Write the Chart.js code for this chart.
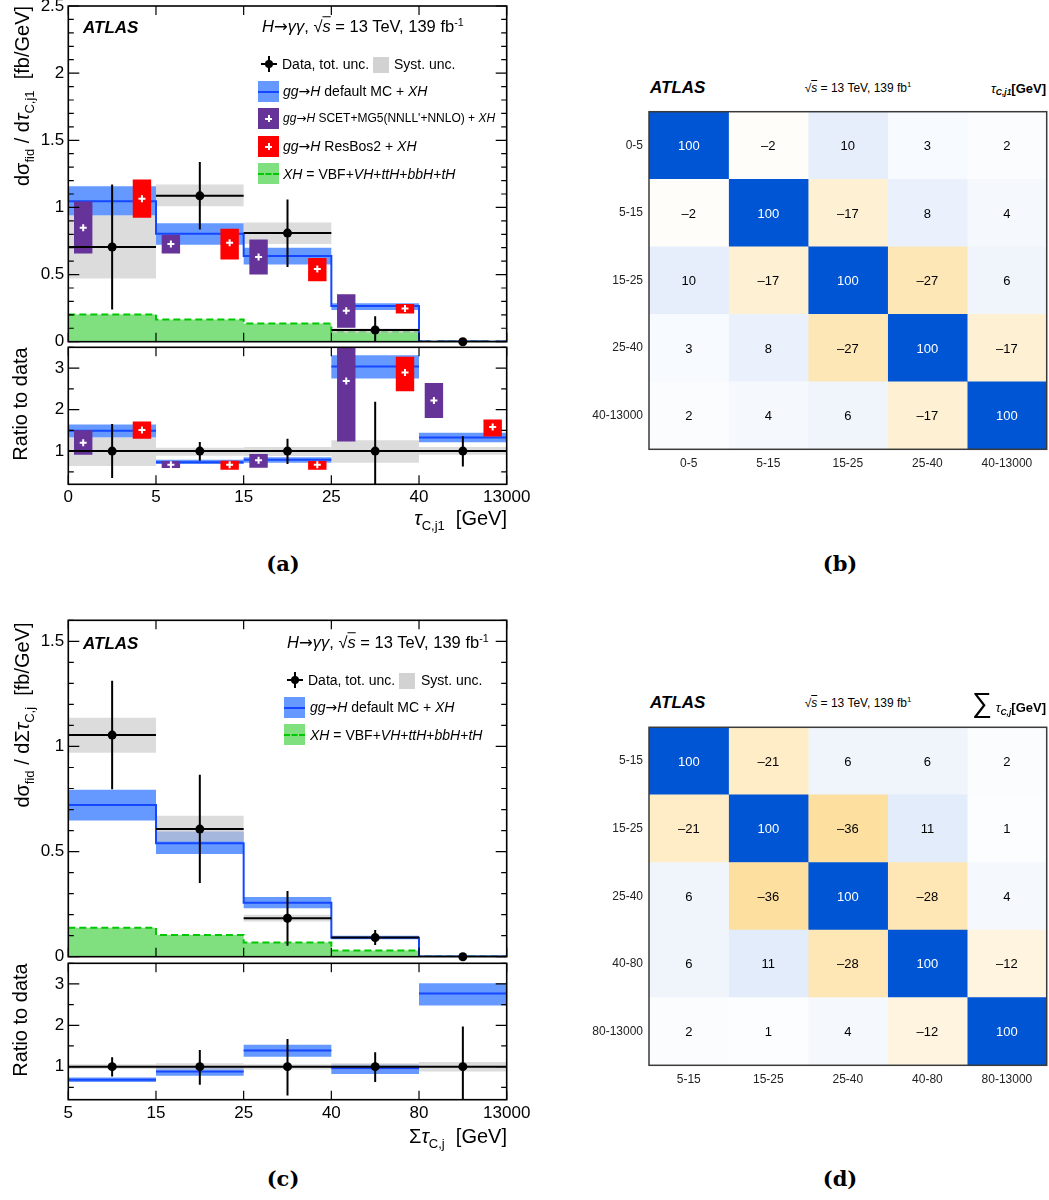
<!DOCTYPE html>
<html lang="en">
<head>
<meta charset="UTF-8">
<title>ATLAS H→γγ τ_C,j distributions</title>
<script src="https://cdn.jsdelivr.net/npm/chart.js@4.4.1/dist/chart.umd.min.js"></script>
<style>
    * { margin: 0; padding: 0; box-sizing: border-box; }
    body { background: #fff; font-family: "Liberation Sans", Arial, Helvetica, sans-serif; color: #000; }
    #page { position: relative; width: 1049px; height: 1200px; overflow: hidden; }
    canvas { position: absolute; }
    .t { position: absolute; white-space: nowrap; line-height: 1; transform: translateY(-50%); }
    .rot { transform: translate(-50%, -50%) rotate(-90deg); }
    .ctr { transform: translate(-50%, -50%); }
    .bi { font-weight: bold; font-style: italic; }
    .cap { font-family: "DejaVu Serif", "Liberation Serif", serif; font-weight: bold; font-size: 21px; }
    .ov { text-decoration: overline; font-style: italic; }
    .ar { font-family: "DejaVu Sans", sans-serif; }
    sub { font-size: 0.65em; vertical-align: -0.35em; line-height: 0; }
    sup { font-size: 0.65em; vertical-align: 0.6em; line-height: 0; }
    .mk { position: absolute; }
    .mk span { position: absolute; display: block; }
    .mk-data { width: 16px; height: 16px; }
    .mk-data .h { left: 0; top: 7px; width: 16px; height: 2px; background: #000; }
    .mk-data .v { left: 7px; top: 0; width: 2px; height: 16px; background: #000; }
    .mk-data .d { left: 4px; top: 4px; width: 8px; height: 8px; border-radius: 50%; background: #000; }
    .mk-syst { width: 16px; height: 16px; background: #d2d2d2; }
    .mk-box { width: 21px; height: 21px; }
    .mk-box .ln { left: 0; top: 9.5px; width: 21px; height: 2px; background: #1447ff; }
    .mk-box .ch { left: 7px; top: 9.5px; width: 7px; height: 2px; background: #fff; }
    .mk-box .cv { left: 9.5px; top: 7px; width: 2px; height: 7px; background: #fff; }
    .mk-box .ds { left: 0; top: 9.5px; width: 21px; height: 0; border-top: 2px dashed #00c800; }
</style>
</head>
<body>
<div id="page">
    <canvas id="mainA" width="570" height="350" style="left:0;top:0"></canvas>
    <canvas id="ratioA" width="570" height="175" style="left:0;top:338px"></canvas>
    <canvas id="mainC" width="570" height="350" style="left:0;top:615px"></canvas>
    <canvas id="ratioC" width="570" height="175" style="left:0;top:955px"></canvas>
    <canvas id="corrB" width="469" height="380" style="left:580px;top:100px"></canvas>
    <canvas id="corrD" width="469" height="380" style="left:580px;top:715px"></canvas>

    <!-- panel (a) -->
    <div class="t bi" style="left:83px;top:27px;font-size:17px">ATLAS</div>
    <div class="t" style="left:262px;top:27px;font-size:16.5px"><i>H</i><span class="ar">→</span><i>γγ</i>, √<span class="ov">s</span> = 13 TeV, 139 fb<sup>-1</sup></div>
    <div class="mk mk-data" style="left:261px;top:56px"><span class="h"></span><span class="v"></span><span class="d"></span></div>
    <div class="t" style="left:282px;top:64px;font-size:14px">Data, tot. unc.</div>
    <div class="mk mk-syst" style="left:373px;top:57px"></div>
    <div class="t" style="left:394px;top:64px;font-size:14px">Syst. unc.</div>
    <div class="mk mk-box" style="left:258px;top:81px;background:#6699ff"><span class="ln"></span></div>
    <div class="t" style="left:283px;top:91px;font-size:14px"><i>gg</i><span class="ar">→</span><i>H</i> default MC + <i>XH</i></div>
    <div class="mk mk-box" style="left:258px;top:108px;background:#663399"><span class="ch"></span><span class="cv"></span></div>
    <div class="t" style="left:283px;top:118px;font-size:12px"><i>gg</i><span class="ar">→</span><i>H</i> SCET+MG5(NNLL'+NNLO) + <i>XH</i></div>
    <div class="mk mk-box" style="left:258px;top:136px;background:#ff0000"><span class="ch"></span><span class="cv"></span></div>
    <div class="t" style="left:283px;top:146px;font-size:14px"><i>gg</i><span class="ar">→</span><i>H</i> ResBos2 + <i>XH</i></div>
    <div class="mk mk-box" style="left:258px;top:163px;background:#80e080"><span class="ds"></span></div>
    <div class="t" style="left:283px;top:174px;font-size:14px"><i>XH</i> = VBF+<i>VH</i>+<i>ttH</i>+<i>bbH</i>+<i>tH</i></div>
    <div class="t rot" style="left:22px;top:96px;font-size:20px">dσ<sub>fid</sub> / d<i>τ</i><sub>C,j1</sub>&nbsp;&nbsp;[fb/GeV]</div>
    <div class="t rot" style="left:20px;top:404px;font-size:20px">Ratio to data</div>
    <div class="t" style="right:542px;top:518px;font-size:20px"><i>τ</i><sub>C,j1</sub>&nbsp;&nbsp;[GeV]</div>
    <div class="t ctr cap" style="left:283px;top:563px">(a)</div>

    <!-- panel (b) -->
    <div class="t bi" style="left:650px;top:87px;font-size:17px">ATLAS</div>
    <div class="t ctr" style="left:858px;top:88px;font-size:12px">√<span class="ov">s</span> = 13 TeV, 139 fb<sup>1</sup></div>
    <div class="t" style="right:3px;top:88px;font-size:13px;font-weight:bold"><i style="font-weight:normal">τ</i><sub><i>C,j1</i></sub>[GeV]</div>
    <div class="t ctr cap" style="left:840px;top:563px">(b)</div>

    <!-- panel (c) -->
    <div class="t bi" style="left:83px;top:643px;font-size:17px">ATLAS</div>
    <div class="t" style="left:287px;top:643px;font-size:16.5px"><i>H</i><span class="ar">→</span><i>γγ</i>, √<span class="ov">s</span> = 13 TeV, 139 fb<sup>-1</sup></div>
    <div class="mk mk-data" style="left:287px;top:672px"><span class="h"></span><span class="v"></span><span class="d"></span></div>
    <div class="t" style="left:308px;top:680px;font-size:14px">Data, tot. unc.</div>
    <div class="mk mk-syst" style="left:399px;top:673px"></div>
    <div class="t" style="left:421px;top:680px;font-size:14px">Syst. unc.</div>
    <div class="mk mk-box" style="left:284px;top:697px;background:#6699ff"><span class="ln"></span></div>
    <div class="t" style="left:310px;top:707px;font-size:14px"><i>gg</i><span class="ar">→</span><i>H</i> default MC + <i>XH</i></div>
    <div class="mk mk-box" style="left:284px;top:724px;background:#80e080"><span class="ds"></span></div>
    <div class="t" style="left:310px;top:735px;font-size:14px"><i>XH</i> = VBF+<i>VH</i>+<i>ttH</i>+<i>bbH</i>+<i>tH</i></div>
    <div class="t rot" style="left:22px;top:715px;font-size:20px">dσ<sub>fid</sub> / dΣ<i>τ</i><sub>C,j</sub>&nbsp;&nbsp;[fb/GeV]</div>
    <div class="t rot" style="left:20px;top:1020px;font-size:20px">Ratio to data</div>
    <div class="t" style="right:542px;top:1136px;font-size:20px">Σ<i>τ</i><sub>C,j</sub>&nbsp;&nbsp;[GeV]</div>
    <div class="t ctr cap" style="left:283px;top:1178px">(c)</div>

    <!-- panel (d) -->
    <div class="t bi" style="left:650px;top:702px;font-size:17px">ATLAS</div>
    <div class="t ctr" style="left:858px;top:703px;font-size:12px">√<span class="ov">s</span> = 13 TeV, 139 fb<sup>1</sup></div>
    <div class="t" style="right:3px;top:703px;font-size:13px;font-weight:bold"><span style="font-size:28px;font-weight:normal">∑</span> <i style="font-weight:normal">τ</i><sub><i>C,j</i></sub>[GeV]</div>
    <div class="t ctr cap" style="left:840px;top:1178px">(d)</div>
</div>
<script>
    Chart.defaults.font.family = "'Liberation Sans', Arial, Helvetica, sans-serif";
    Chart.defaults.color = "#000";

    // ---- (a) tau_C,j1 : main panel ----
    const edgesA = ["0", "5", "15", "25", "40", "13000"];
    const dataA = [0.705, 1.086, 0.809, 0.087, 0.0];
    const dataUpA = [1.17, 1.338, 1.059, 0.19, 0.0];
    const dataDnA = [0.24, 0.836, 0.556, -0.02, 0.0];
    const systUpA = [0.94, 1.17, 0.888, 0.099, 0.0];
    const systDnA = [0.47, 1.009, 0.727, 0.062, 0.0];
    const mcA = [1.046, 0.804, 0.638, 0.265, 0.002];
    const mcUpA = [1.157, 0.883, 0.700, 0.287, 0.004];
    const mcDnA = [0.94, 0.722, 0.574, 0.237, 0.0];
    const scetA = [0.849, 0.727, 0.631, 0.23, 0.003];
    const scetUpA = [1.044, 0.797, 0.762, 0.354, 0.006];
    const scetDnA = [0.656, 0.656, 0.50, 0.104, 0.0];
    const resbosA = [1.064, 0.737, 0.542, 0.248, 0.003];
    const resbosUpA = [1.207, 0.841, 0.623, 0.28, 0.006];
    const resbosDnA = [0.923, 0.613, 0.45, 0.21, 0.0];
    const xhA = [0.203, 0.166, 0.136, 0.075, 0.001];

    // ---- (a) ratio to data ----
    const rDataA = [1, 1, 1, 1, 1];
    const rDataUpA = [1.65, 1.22, 1.30, 2.19, 1.36];
    const rDataDnA = [0.35, 0.77, 0.69, 0.0, 0.63];
    const rSystUpA = [1.33, 1.08, 1.10, 1.26, 1.10];
    const rSystDnA = [0.64, 0.89, 0.88, 0.72, 0.91];
    const rMcA = [1.49, 0.73, 0.79, 3.04, 1.33];
    const rMcUpA = [1.64, 0.79, 0.85, 3.31, 1.44];
    const rMcDnA = [1.33, 0.69, 0.72, 2.75, 1.21];
    const rScetA = [1.20, 0.67, 0.78, 2.69, 2.22];
    const rScetUpA = [1.50, 0.76, 0.93, 4.00, 2.64];
    const rScetDnA = [0.91, 0.59, 0.60, 1.23, 1.80];
    const rResbosA = [1.51, 0.67, 0.67, 2.89, 1.58];
    const rResbosUpA = [1.71, 0.77, 0.76, 3.27, 1.76];
    const rResbosDnA = [1.30, 0.55, 0.55, 2.44, 1.35];

    // ---- (c) sum tau_C,j : main panel ----
    const edgesC = ["5", "15", "25", "40", "80", "13000"];
    const dataC = [1.054, 0.607, 0.183, 0.091, 0.0];
    const dataUpC = [1.313, 0.865, 0.313, 0.127, 0.0];
    const dataDnC = [0.797, 0.35, 0.052, 0.056, 0.0];
    const systUpC = [1.137, 0.67, 0.199, 0.095, 0.0];
    const systDnC = [0.97, 0.548, 0.167, 0.087, 0.0];
    const mcC = [0.722, 0.54, 0.257, 0.09, 0.001];
    const mcUpC = [0.794, 0.595, 0.284, 0.10, 0.002];
    const mcDnC = [0.648, 0.488, 0.23, 0.083, 0.0];
    const xhC = [0.138, 0.103, 0.067, 0.029, 0.001];

    // ---- (c) ratio to data ----
    const rDataC = [1, 1, 1, 1, 1];
    const rDataUpC = [1.23, 1.40, 1.67, 1.35, 1.97];
    const rDataDnC = [0.76, 0.56, 0.30, 0.63, 0.0];
    const rSystUpC = [1.06, 1.08, 1.06, 1.08, 1.11];
    const rSystDnC = [0.94, 0.90, 0.93, 0.93, 0.88];
    const rMcC = [0.68, 0.88, 1.39, 0.96, 2.77];
    const rMcUpC = [0.74, 0.98, 1.53, 1.05, 3.02];
    const rMcDnC = [0.63, 0.78, 1.24, 0.82, 2.48];

    const yTicksA = [0, 0.5, 1, 1.5, 2, 2.5];
    const yTicksC = [0, 0.5, 1, 1.5];
    const yTicksRatio = [1, 2, 3];

    // ---- (b), (d) correlation matrices [%] ----
    const binsB = ["0-5", "5-15", "15-25", "25-40", "40-13000"];
    const corrMatB = [
        [100, -2, 10, 3, 2],
        [-2, 100, -17, 8, 4],
        [10, -17, 100, -27, 6],
        [3, 8, -27, 100, -17],
        [2, 4, 6, -17, 100]
    ];
    const binsD = ["5-15", "15-25", "25-40", "40-80", "80-13000"];
    const corrMatD = [
        [100, -21, 6, 6, 2],
        [-21, 100, -36, 11, 1],
        [6, -36, 100, -28, 4],
        [6, 11, -28, 100, -12],
        [2, 1, 4, -12, 100]
    ];

    // helpers turning per-bin values into points on the bin-index axis
    function stepPts(vals) {
        const pts = [];
        vals.forEach((v, i) => pts.push({ x: i, y: v }, { x: i + 1, y: v }));
        return pts;
    }
    function segPts(vals) {
        const pts = [];
        vals.forEach((v, i) => pts.push({ x: i, y: v }, { x: i + 1, y: v }, { x: i + 1, y: null }));
        return pts;
    }
    function boxPts(lo, hi, from, to) {
        const pts = [];
        lo.forEach((l, i) => {
            const x0 = i + from, x1 = i + to;
            pts.push({ x: x0, y: l }, { x: x0, y: hi[i] }, { x: x1, y: hi[i] }, { x: x1, y: l }, { x: x0, y: l }, { x: x1, y: null });
        });
        return pts;
    }
    function errPts(lo, hi, at) {
        const pts = [];
        lo.forEach((l, i) => pts.push({ x: i + at, y: l }, { x: i + at, y: hi[i] }, { x: i + at, y: null }));
        return pts;
    }
    function markPts(vals, at) {
        return vals.map((v, i) => ({ x: i + at, y: v }));
    }

    // ATLAS style frame with inward ticks
    function frameTicks(minor, major) {
        return {
            id: "frameTicks",
            afterDatasetsDraw(chart) {
                const { ctx, chartArea: a, scales: { x, y } } = chart;
                ctx.save();
                ctx.strokeStyle = "#000";
                ctx.lineWidth = 1.2;
                ctx.beginPath();
                const first = Math.ceil(y.min / minor - 1e-6), last = Math.floor(y.max / minor + 1e-6);
                for (let k = first; k <= last; k++) {
                    const v = k * minor;
                    const isMajor = Math.abs(v / major - Math.round(v / major)) < 1e-6;
                    const len = isMajor ? 11 : 5.5;
                    const py = y.getPixelForValue(v);
                    ctx.moveTo(a.left, py); ctx.lineTo(a.left + len, py);
                    ctx.moveTo(a.right, py); ctx.lineTo(a.right - len, py);
                }
                for (let v = x.min; v <= x.max; v++) {
                    const px = x.getPixelForValue(v);
                    ctx.moveTo(px, a.top); ctx.lineTo(px, a.top + 9);
                    ctx.moveTo(px, a.bottom); ctx.lineTo(px, a.bottom - 9);
                }
                ctx.stroke();
                ctx.lineWidth = 1.6;
                ctx.strokeRect(a.left, a.top, a.right - a.left, a.bottom - a.top);
                ctx.restore();
            }
        };
    }

    function histChart(id, o) {
        const ds = [];
        if (o.xh) {
            ds.push({ data: stepPts(o.xh), borderColor: "#00c800", borderWidth: 2, borderDash: [7, 4], backgroundColor: "#80e080", fill: "origin" });
        }
        ds.push({ data: boxPts(o.mcDn, o.mcUp, 0, 1), borderWidth: 0, borderColor: "transparent", backgroundColor: "#6699ff", fill: "shape" });
        ds.push({ data: boxPts(o.systDn, o.systUp, 0, 1), borderWidth: 0, borderColor: "transparent", backgroundColor: "rgba(200,200,200,0.64)", fill: "shape" });
        // main panels: stepped histogram; ratio panels: one segment per bin
        ds.push({ data: o.isRatio ? segPts(o.mc) : stepPts(o.mc), borderColor: "#1447ff", borderWidth: 2, fill: false });
        if (o.scet) {
            ds.push({ data: boxPts(o.scetDn, o.scetUp, 0.065, 0.275), borderWidth: 0, borderColor: "transparent", backgroundColor: "#663399", fill: "shape" });
            ds.push({ data: markPts(o.scet, 0.17), showLine: false, pointStyle: "cross", pointRadius: 3.5, pointBorderColor: "#fff", pointBorderWidth: 2 });
            ds.push({ data: boxPts(o.resbosDn, o.resbosUp, 0.735, 0.945), borderWidth: 0, borderColor: "transparent", backgroundColor: "#ff0000", fill: "shape" });
            ds.push({ data: markPts(o.resbos, 0.84), showLine: false, pointStyle: "cross", pointRadius: 3.5, pointBorderColor: "#fff", pointBorderWidth: 2 });
        }
        ds.push({ data: segPts(o.data), borderColor: "#000", borderWidth: 2, fill: false });
        ds.push({ data: errPts(o.dataDn, o.dataUp, 0.5), borderColor: "#000", borderWidth: 2, fill: false });
        ds.push({ data: markPts(o.data, 0.5), showLine: false, pointRadius: 4.5, pointBackgroundColor: "#000", pointBorderWidth: 0, clip: false });
        ds.forEach((d, i) => {
            d.order = -i;
            if (d.pointRadius === undefined) d.pointRadius = 0;
        });

        return new Chart(document.getElementById(id), {
            type: "line",
            data: { datasets: ds },
            options: {
                responsive: false,
                animation: false,
                events: [],
                layout: { padding: o.padding },
                plugins: { legend: { display: false }, tooltip: { enabled: false } },
                scales: {
                    x: {
                        type: "linear",
                        min: 0,
                        max: o.edges.length - 1,
                        display: o.isRatio,
                        afterBuildTicks: s => { s.ticks = o.edges.map((_, i) => ({ value: i })); },
                        afterFit: s => { s.height = o.xHeight || 0; s.paddingLeft = 0; s.paddingRight = 0; },
                        ticks: { callback: v => o.edges[v], font: { size: 17 }, padding: 3, maxRotation: 0, autoSkip: false },
                        grid: { display: false, drawTicks: false },
                        border: { display: false }
                    },
                    y: {
                        min: o.yMin,
                        max: o.yMax,
                        afterBuildTicks: s => { s.ticks = o.yTicks.map(v => ({ value: v })); },
                        afterFit: s => { s.width = 68.3; s.paddingTop = 0; s.paddingBottom = 0; },
                        ticks: { callback: v => String(v), font: { size: 17 }, padding: 4 },
                        grid: { display: false, drawTicks: false },
                        border: { display: false }
                    }
                }
            },
            plugins: [frameTicks(o.minor, o.major)]
        });
    }

    function cellColor(v) {
        const t = Math.min(Math.abs(v), 100) / 100;
        const end = v >= 0 ? [0, 85, 212] : [250, 167, -10];
        const c = end.map(e => Math.max(0, Math.round(255 - t * (255 - e))));
        return "rgb(" + c.join(",") + ")";
    }

    function cellText(values) {
        return {
            id: "cellText",
            afterDatasetsDraw(chart) {
                const { ctx, chartArea: a } = chart;
                ctx.save();
                ctx.font = "13px 'Liberation Sans', Arial, sans-serif";
                ctx.textAlign = "center";
                ctx.textBaseline = "middle";
                chart.data.datasets.forEach((d, j) => {
                    chart.getDatasetMeta(j).data.forEach((bar, i) => {
                        const v = values[i][j];
                        const p = bar.getProps(["x", "y", "base"], true);
                        ctx.fillStyle = Math.abs(v) >= 50 ? "#fff" : "#000";
                        ctx.fillText(v < 0 ? "\u2013" + Math.abs(v) : String(v), (p.x + p.base) / 2, p.y + 1);
                    });
                });
                ctx.strokeStyle = "#3a3a3a";
                ctx.lineWidth = 1.5;
                ctx.strokeRect(a.left, a.top, a.right - a.left, a.bottom - a.top);
                ctx.restore();
            }
        };
    }

    function matrixChart(id, bins, values, o) {
        const datasets = bins.map((_, j) => ({
            data: bins.map(() => [j, j + 1]),
            backgroundColor: bins.map((_, i) => cellColor(values[i][j])),
            borderWidth: 0,
            barPercentage: 1,
            categoryPercentage: 1,
            grouped: false
        }));
        return new Chart(document.getElementById(id), {
            type: "bar",
            data: { labels: bins, datasets },
            options: {
                indexAxis: "y",
                responsive: false,
                animation: false,
                events: [],
                layout: { padding: o.padding },
                plugins: { legend: { display: false }, tooltip: { enabled: false } },
                scales: {
                    x: {
                        type: "linear",
                        min: 0,
                        max: bins.length,
                        afterBuildTicks: s => { s.ticks = bins.map((_, j) => ({ value: j + 0.5 })); },
                        afterFit: s => { s.height = o.xHeight; s.paddingLeft = 0; s.paddingRight = 0; },
                        ticks: { callback: v => bins[Math.floor(v)], font: { size: 12 }, color: "#222", padding: 7, maxRotation: 0, autoSkip: false },
                        grid: { display: false, drawTicks: false },
                        border: { display: false }
                    },
                    y: {
                        afterFit: s => { s.width = 69; s.paddingTop = 0; s.paddingBottom = 0; },
                        ticks: { font: { size: 12 }, color: "#222", padding: 6 },
                        grid: { display: false, drawTicks: false },
                        border: { display: false }
                    }
                }
            },
            plugins: [cellText(values)]
        });
    }

    // (a)
    histChart("mainA", {
        edges: edgesA, yMin: 0, yMax: 2.5, yTicks: yTicksA, minor: 0.1, major: 0.5,
        isRatio: false, padding: { left: 0, right: 63.3, top: 4.9, bottom: 8.3 },
        data: dataA, dataUp: dataUpA, dataDn: dataDnA, systUp: systUpA, systDn: systDnA,
        mc: mcA, mcUp: mcUpA, mcDn: mcDnA, xh: xhA,
        scet: scetA, scetUp: scetUpA, scetDn: scetDnA,
        resbos: resbosA, resbosUp: resbosUpA, resbosDn: resbosDnA
    });
    histChart("ratioA", {
        edges: edgesA, yMin: 0.2, yMax: 3.5, yTicks: yTicksRatio, minor: 0.5, major: 1,
        isRatio: true, xHeight: 28.7, padding: { left: 0, right: 63.3, top: 9.3, bottom: 0 },
        data: rDataA, dataUp: rDataUpA, dataDn: rDataDnA, systUp: rSystUpA, systDn: rSystDnA,
        mc: rMcA, mcUp: rMcUpA, mcDn: rMcDnA,
        scet: rScetA, scetUp: rScetUpA, scetDn: rScetDnA,
        resbos: rResbosA, resbosUp: rResbosUpA, resbosDn: rResbosDnA
    });

    // (c)
    histChart("mainC", {
        edges: edgesC, yMin: 0, yMax: 1.6, yTicks: yTicksC, minor: 0.1, major: 0.5,
        isRatio: false, padding: { left: 0, right: 63.3, top: 5.3, bottom: 8.3 },
        data: dataC, dataUp: dataUpC, dataDn: dataDnC, systUp: systUpC, systDn: systDnC,
        mc: mcC, mcUp: mcUpC, mcDn: mcDnC, xh: xhC
    });
    histChart("ratioC", {
        edges: edgesC, yMin: 0.2, yMax: 3.5, yTicks: yTicksRatio, minor: 0.5, major: 1,
        isRatio: true, xHeight: 30.3, padding: { left: 0, right: 63.3, top: 8.3, bottom: 0 },
        data: rDataC, dataUp: rDataUpC, dataDn: rDataDnC, systUp: rSystUpC, systDn: rSystDnC,
        mc: rMcC, mcUp: rMcUpC, mcDn: rMcDnC
    });

    // (b), (d)
    matrixChart("corrB", binsB, corrMatB, { xHeight: 30.7, padding: { left: 0, right: 2.3, top: 11.7, bottom: 0 } });
    matrixChart("corrD", binsD, corrMatD, { xHeight: 29.7, padding: { left: 0, right: 2.3, top: 12.3, bottom: 0 } });
</script>
</body>
</html>
